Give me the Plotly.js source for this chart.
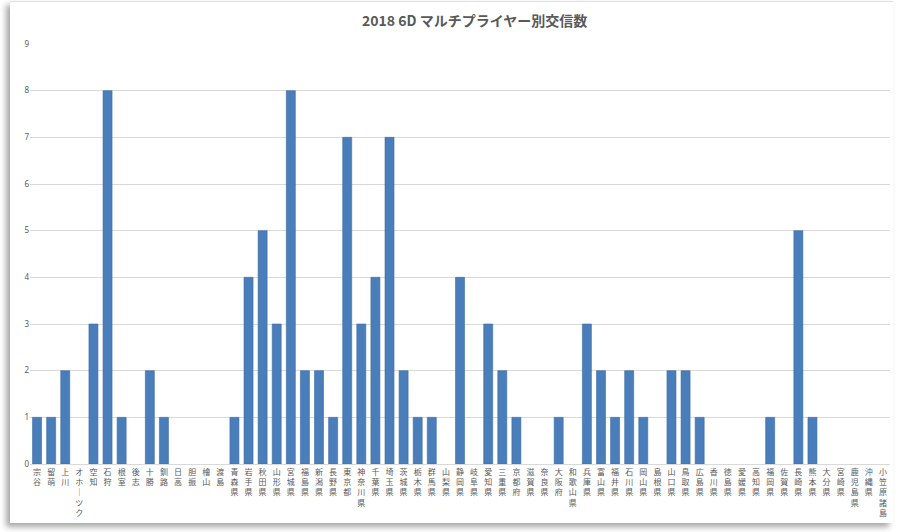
<!DOCTYPE html>
<html><head><meta charset="utf-8">
<script src="https://cdn.plot.ly/plotly-3.0.1.min.js"></script>
<style>
html,body{margin:0;padding:0;background:#fff;width:900px;height:532px;overflow:hidden}
#card{position:absolute;left:10px;top:1px;width:883px;height:521px;background:#fff;box-shadow:-4px 4px 6px rgba(0,0,0,0.35);border-top:1px solid #e0e0e0}
#chart{width:883px;height:521px}
</style></head>
<body><div id="card"><div id="chart"></div></div>
<script>
const categories = ["宗谷","留萌","上川","オホーツク","空知","石狩","根室","後志","十勝","釧路","日高","胆振","檜山","渡島",
"青森県","岩手県","秋田県","山形県","宮城県","福島県","新潟県","長野県","東京都","神奈川県","千葉県","埼玉県","茨城県","栃木県","群馬県","山梨県",
"静岡県","岐阜県","愛知県","三重県","京都府","滋賀県","奈良県","大阪府","和歌山県","兵庫県","富山県","福井県","石川県","岡山県","島根県",
"山口県","鳥取県","広島県","香川県","徳島県","愛媛県","高知県","福岡県","佐賀県","長崎県","熊本県","大分県","宮崎県","鹿児島県","沖縄県","小笠原諸島"];
const counts = [1,1,2,0,3,8,1,0,2,1,0,0,0,0,
1,4,5,3,8,2,2,1,7,3,4,7,2,1,1,0,
4,0,3,2,1,0,0,1,0,3,2,1,2,1,0,
2,2,1,0,0,0,0,1,0,5,1,0,0,0,0,0];
const yTicks = [0,1,2,3,4,5,6,7,8,9];

const verticalText = categories.map(c => Array.from(c.replace(/ー/g,"｜")).join("<br>"));

const trace = {
  type: "bar",
  x: categories,
  y: counts,
  marker: {color: "#4a7ebb", line: {color: "#3d6ca6", width: counts.map(v => v > 0 ? 0.6 : 0)}},
  hoverinfo: "x+y"
};

const layout = {
  width: 883, height: 521,
  margin: {l: 20, r: 3, t: 42, b: 59, pad: 0},
  paper_bgcolor: "#ffffff",
  plot_bgcolor: "#ffffff",
  bargap: 0.36,
  showlegend: false,
  title: {text: "2018 6D マルチプライヤー別交信数", x: 0.517, xref: "paper", y: 0.973, yref: "container",
    font: {family: "Noto Sans CJK JP, sans-serif", size: 14, color: "#595959", weight: 600}},
  xaxis: {
    type: "category",
    tickmode: "array", tickvals: categories, ticktext: verticalText,
    tickangle: 0,
    tickfont: {family: "Noto Sans CJK JP, sans-serif", size: 8, color: "#595959"},
    showline: true, linecolor: "#d9d9d9", linewidth: 1,
    ticks: "", showgrid: false, fixedrange: true
  },
  yaxis: {
    range: [0, 9], tickmode: "array", tickvals: yTicks,
    tickfont: {family: "Noto Sans, sans-serif", size: 8, color: "#595959"},
    gridcolor: "#d9d9d9", gridwidth: 1, zeroline: false, showline: false,
    ticks: "", ticklen: 0, fixedrange: true
  }
};

Plotly.newPlot("chart", [trace], layout, {displayModeBar: false, staticPlot: true});
</script>
</body></html>
